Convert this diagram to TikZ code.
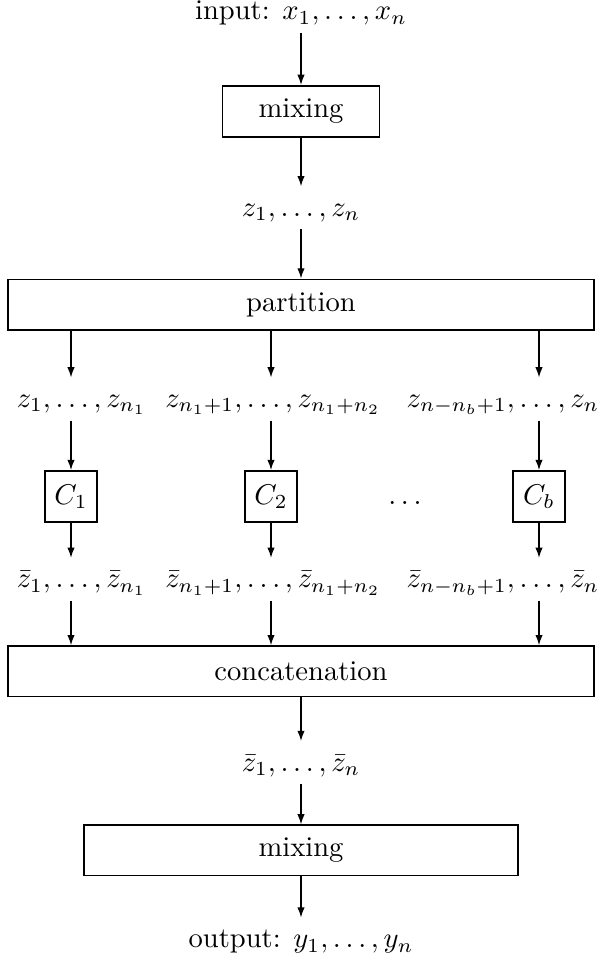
\documentclass[tikz,border=0pt]{standalone}
\usepackage{amsmath}
\usepackage{tikz}
\usetikzlibrary{arrows.meta,positioning,calc}
\tikzset{
  stage/.style={draw, line width=0.6pt, align=center,
    minimum width=55pt, minimum height=17.9pt},
  widestage/.style={stage, minimum width=205.2pt, minimum height=17.6pt},
  coder/.style={draw, line width=0.6pt, inner sep=1pt,
    minimum width=18.2pt, minimum height=17.9pt},
  seq/.style={inner xsep=1pt, inner ysep=3.33pt, text height=7pt, text depth=1pt},
  wire/.style={-{Latex[length=3.6pt, width=2.6pt]}, line width=0.5pt}
}

\begin{document}
\begin{tikzpicture}[node distance=17pt]
  \node[seq] (input) {input: $x_1,\ldots,x_n$};
  \node[stage, below=18.27pt of input] (mixin) {mixing};
  \node[seq, below=16.97pt of mixin] (zall) {$z_1,\ldots,z_n$};
  \node[widestage, below=17.22pt of zall] (part) {partition};
  \node[seq, below=16.42pt of part, xshift=-76.8pt] (zfirst) {$z_1,\ldots,z_{n_1}$};
  \node[seq, below=16.42pt of part, xshift=-9.8pt] (zsecond) {$z_{n_1+1},\ldots,z_{n_1+n_2}$};
  \node[seq, below=16.42pt of part, xshift=70.7pt] (zlast) {$z_{n-n_b+1},\ldots,z_n$};
  \node[coder, below=17.37pt of zfirst, xshift=-3.7pt] (c1) {$C_1$};
  \node[coder, below=17.37pt of zsecond, xshift=-0.7pt] (c2) {$C_2$};
  \node[coder, below=17.37pt of zlast, xshift=12.6pt] (cb) {$C_b$};
  \node[anchor=base] (dots) at ($(c2.base)!0.5!(cb.base)$) {$\ldots$};
  \node[seq, below=12.22pt of c1, xshift=3.7pt] (zbfirst) {$\bar{z}_1,\ldots,\bar{z}_{n_1}$};
  \node[seq, below=12.22pt of c2, xshift=0.7pt] (zbsecond) {$\bar{z}_{n_1+1},\ldots,\bar{z}_{n_1+n_2}$};
  \node[seq, below=12.22pt of cb, xshift=-12.6pt] (zblast) {$\bar{z}_{n-n_b+1},\ldots,\bar{z}_n$};
  \node[widestage, below=15.52pt of zbsecond, xshift=9.8pt] (concat) {concatenation};
  \node[seq, below=15.32pt of concat] (zball) {$\bar{z}_1,\ldots,\bar{z}_n$};
  \node[stage, minimum width=152pt, minimum height=17.6pt, below=14.12pt of zball] (mixout) {mixing};
  \node[seq, below=14.42pt of mixout] (output) {output: $y_1,\ldots,y_n$};
  \draw[wire] (input) -- (mixin);
  \draw[wire] (mixin) -- (zall);
  \draw[wire] (zall) -- (part);
  \draw[wire] (c1 |- part.south) -- (c1 |- zfirst.north);
  \draw[wire] (c2 |- part.south) -- (c2 |- zsecond.north);
  \draw[wire] (cb |- part.south) -- (cb |- zlast.north);
  \draw[wire] (c1 |- zfirst.south) -- (c1);
  \draw[wire] (c2 |- zsecond.south) -- (c2);
  \draw[wire] (cb |- zlast.south) -- (cb);
  \draw[wire] (c1) -- (c1 |- zbfirst.north);
  \draw[wire] (c2) -- (c2 |- zbsecond.north);
  \draw[wire] (cb) -- (cb |- zblast.north);
  \draw[wire] (c1 |- zbfirst.south) -- (c1 |- concat.north);
  \draw[wire] (c2 |- zbsecond.south) -- (c2 |- concat.north);
  \draw[wire] (cb |- zblast.south) -- (cb |- concat.north);
  \draw[wire] (concat) -- (zball);
  \draw[wire] (zball) -- (mixout);
  \draw[wire] (mixout) -- (output);
  \pgfresetboundingbox
  \useasboundingbox ([xshift=-2.45pt, yshift=97.5pt]part.north west)
    rectangle ([xshift=0.35pt, yshift=-238.5pt]part.north east);
\end{tikzpicture}
\end{document}
